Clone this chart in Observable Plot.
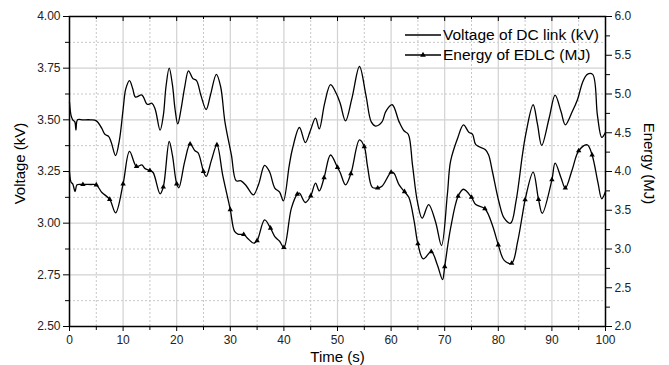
<!DOCTYPE html>
<html><head><meta charset="utf-8">
<script src="https://cdn.jsdelivr.net/npm/d3@7"></script>
<script src="https://cdn.jsdelivr.net/npm/@observablehq/plot@0.6"></script>
<style>body{margin:0;background:#fff;font-family:Arial,"Liberation Sans",sans-serif}</style>
</head><body><div id="chart"></div>
<script>
// Voltage of DC link (kV)
const timeV = [0,0.3,0.6,1.0,1.2,1.5,2.5,4,5,6,6.6,7.3,7.8,8.6,9.3,10,10.5,11.2,11.8,12.3,13.5,14.5,15.4,16,16.9,17.5,18,18.6,19.2,19.7,20.2,20.8,21.5,22.2,23,23.7,24.5,25.5,26.3,27.4,28.2,29,30.2,31.1,32,33,34.3,35.3,36.4,37.3,38.3,39.2,39.9,41,41.6,42.9,44,44.9,45.9,46.6,47.6,48.7,49.8,50.5,51.5,52.7,54.1,55.3,56.3,57.1,58.3,59,60.2,61.5,62.4,63.2,64,64.9,65.8,67,68.3,69.4,70.5,71.1,72.4,73.5,74.5,75.2,75.8,77.6,78.2,78.9,80.1,81.1,82.3,83.3,84.5,85.1,86.5,87.3,88.1,89.5,90.6,91.7,92.5,93.8,94.8,95.7,96.6,97.6,98.5,99.3,100];
const voltage = [3.585,3.52,3.50,3.49,3.45,3.50,3.50,3.50,3.495,3.46,3.43,3.42,3.39,3.327,3.40,3.55,3.65,3.69,3.65,3.61,3.62,3.575,3.58,3.55,3.45,3.52,3.66,3.75,3.67,3.55,3.48,3.55,3.66,3.737,3.70,3.69,3.62,3.55,3.62,3.72,3.66,3.49,3.33,3.205,3.205,3.18,3.137,3.19,3.28,3.25,3.17,3.15,3.108,3.28,3.36,3.463,3.39,3.445,3.508,3.456,3.58,3.67,3.626,3.58,3.495,3.605,3.758,3.62,3.49,3.47,3.49,3.54,3.573,3.49,3.447,3.43,3.28,3.105,3.024,3.09,3.006,2.892,3.14,3.30,3.41,3.476,3.44,3.43,3.38,3.355,3.33,3.25,3.105,3.024,3.0,3.105,3.33,3.427,3.573,3.48,3.376,3.51,3.62,3.54,3.476,3.54,3.60,3.68,3.72,3.72,3.52,3.415,3.44];
// Energy of EDLC (MJ)
const timeE = [0,0.3,0.6,1.05,1.4,2.5,4,5,6,7.5,8.6,10,11.2,12.5,13.5,14.1,15,15.6,16.9,17.5,18.6,19.2,20,20.4,21.5,22.5,23.4,24,25,25.5,26.5,27.5,28.6,30,30.8,31.5,32.5,33.3,34.4,35,36.4,37.5,38.3,39.2,40,41.4,42.5,42.9,44,45,45.9,46.6,47.5,48.7,50,50.5,51.5,52.5,54.1,55,55.6,56.5,57.5,58.3,60,60.5,61.5,62.5,63.3,64.3,65,66,67.5,68.6,69.6,70,71.1,72.5,73.5,75,75.8,77.5,78.9,80,81.1,82.5,83.6,84.5,85,86.5,87.5,88.2,90,90.6,91.7,92.5,93.8,95,96.6,97.5,98.6,99.3,100];
const energy = [3.992,3.861,3.84,3.741,3.829,3.832,3.832,3.827,3.733,3.64,3.467,3.84,4.259,4.064,4.085,4.037,4.013,3.987,3.712,3.80,4.387,4.21,3.84,3.79,4.13,4.355,4.267,4.24,4.0,3.936,4.15,4.344,3.947,3.507,3.227,3.19,3.187,3.133,3.075,3.107,3.376,3.269,3.16,3.10,3.019,3.528,3.707,3.72,3.60,3.685,3.851,3.749,3.92,4.213,4.053,3.987,3.827,3.973,4.408,4.32,4.067,3.795,3.787,3.81,3.99,3.98,3.827,3.739,3.667,3.36,3.067,2.872,2.965,2.80,2.605,2.773,3.269,3.68,3.771,3.667,3.573,3.52,3.307,3.053,2.853,2.816,3.093,3.44,3.635,3.992,3.64,3.461,3.893,4.107,3.92,3.787,4.027,4.267,4.344,4.213,3.853,3.648,3.741];

const xMajor = [0,10,20,30,40,50,60,70,80,90,100];
const xMinor = [5,15,25,35,45,55,65,75,85,95];
const yMajor = [2.5,2.75,3.0,3.25,3.5,3.75,4.0];
const yMinor = [2.625,2.875,3.125,3.375,3.625,3.875];
const eMajor = [2.0,2.5,3.0,3.5,4.0,4.5,5.0,5.5,6.0];
const eMinor = [2.25,2.75,3.25,3.75,4.25,4.75,5.25,5.75];
const legendLabels = ["Voltage of DC link (kV)", "Energy of EDLC (MJ)"];

// map energy (MJ, 2..6) onto voltage scale (kV, 2.5..4)
const toV = e => 2.5 + (e - 2) * 0.375;
const fromV = v => 2 + (v - 2.5) / 0.375;

const vData = timeV.map((t, i) => ({t, y: voltage[i]}));
const eData = timeE.map((t, i) => ({t, y: toV(energy[i])}));
const isMarker = d => d.t > 0 && d.t < 100 && Math.abs(d.t / 2.5 - Math.round(d.t / 2.5)) < 1e-9;

const W = 669, H = 365, mL = 69, mR = 64, mT = 16, mB = 39;
const innerH = H - mT - mB;
const txt = "#222";

const chart = Plot.plot({
  width: W, height: H,
  marginLeft: mL, marginRight: mR, marginTop: mT, marginBottom: mB,
  style: {fontFamily: "Arial, 'Liberation Sans', sans-serif", background: "#fff"},
  x: {domain: [0, 100]},
  y: {domain: [2.5, 4]},
  marks: [
    Plot.gridX(xMinor, {stroke: "#c8c8c8", strokeOpacity: 1, strokeDasharray: "2,2"}),
    Plot.gridY(yMinor, {stroke: "#c8c8c8", strokeOpacity: 1, strokeDasharray: "2,2"}),
    Plot.gridX(xMajor, {stroke: "#d2d2d2", strokeOpacity: 1, strokeWidth: 1.2}),
    Plot.gridY(yMajor, {stroke: "#d2d2d2", strokeOpacity: 1, strokeWidth: 1.2}),
    Plot.line(vData, {x: "t", y: "y", curve: "catmull-rom", stroke: "black", strokeWidth: 1.3}),
    Plot.line(eData, {x: "t", y: "y", curve: "catmull-rom", stroke: "black", strokeWidth: 1.3}),
    Plot.dot(eData.filter(isMarker), {x: "t", y: "y", symbol: "triangle", r: 2, fill: "black", stroke: "none"}),
    Plot.frame({stroke: "black", strokeWidth: 1.5}),
    // left axis
    Plot.axisY(yMajor, {anchor: "left", tickSize: 6, tickPadding: 3, fontSize: 12, color: txt, stroke: "black", tickFormat: d3.format(".2f"), label: null}),
    Plot.axisY(yMinor, {anchor: "left", tickSize: 4, tickFormat: () => "", label: null, stroke: "black"}),
    // right axis (energy)
    Plot.axisY(eMajor.map(toV), {anchor: "right", tickSize: 6, tickPadding: 3, fontSize: 12, color: txt, stroke: "black", tickFormat: v => fromV(v).toFixed(1), label: null}),
    Plot.axisY(eMinor.map(toV), {anchor: "right", tickSize: 4, tickFormat: () => "", label: null, stroke: "black"}),
    // bottom axis
    Plot.axisX(xMajor, {anchor: "bottom", tickSize: 5, tickPadding: 4, fontSize: 12, color: txt, stroke: "black", label: null}),
    Plot.axisX(xMinor, {anchor: "bottom", tickSize: 4, tickFormat: () => "", label: null, stroke: "black"}),
    // top inward ticks
    Plot.ruleX(xMajor, {stroke: "black", insetBottom: innerH - 5}),
    Plot.ruleX(xMinor, {stroke: "black", insetBottom: innerH - 3}),
    // axis titles
    Plot.text(["Time (s)"], {frameAnchor: "bottom", lineAnchor: "middle", dy: 31, fontSize: 15, fill: "black"}),
    Plot.text(["Voltage (kV)"], {frameAnchor: "left", lineAnchor: "middle", textAnchor: "middle", dx: -49, dy: -8, rotate: -90, fontSize: 15, fill: "black"}),
    Plot.text(["Energy (MJ)"], {frameAnchor: "right", lineAnchor: "middle", textAnchor: "middle", dx: 43, dy: -8, rotate: 90, fontSize: 15, fill: "black"})
  ]
});

// legend inside plot area (top-right)
const svg = d3.select(chart);
const lg = svg.append("g").attr("font-family", "Arial, 'Liberation Sans', sans-serif").attr("font-size", 15.5).attr("text-anchor", "start");
const rows = [35, 55];
legendLabels.forEach((label, i) => {
  lg.append("line").attr("x1", 405).attr("x2", 441).attr("y1", rows[i]).attr("y2", rows[i]).attr("stroke", "black").attr("stroke-width", 1.3);
  lg.append("text").attr("x", 443).attr("y", rows[i]).attr("dy", "0.35em").attr("fill", "black").attr("text-anchor", "start").text(label);
});
lg.append("path").attr("d", d3.symbol(d3.symbolTriangle, 14)()).attr("transform", `translate(423,${rows[1]})`).attr("fill", "black");

document.getElementById("chart").append(chart);
</script></body></html>
